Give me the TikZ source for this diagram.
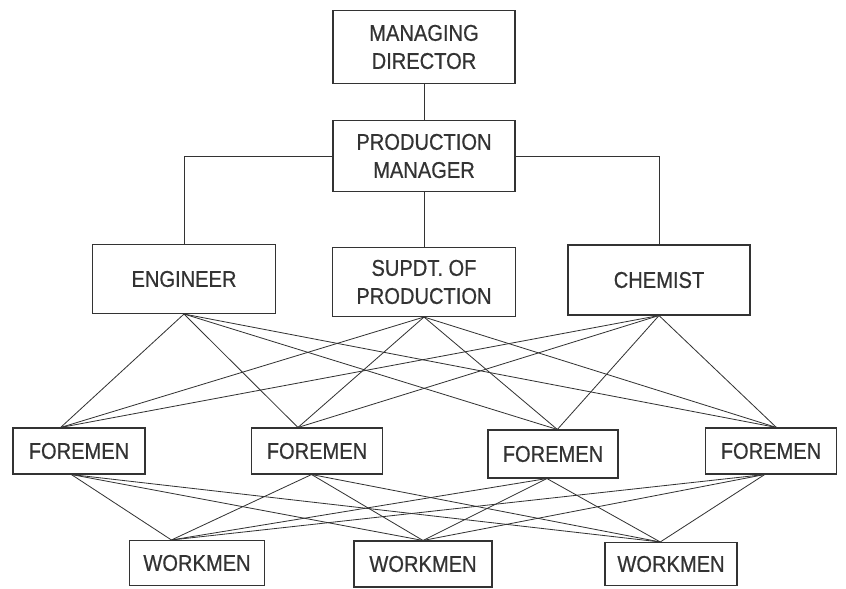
\documentclass[tikz,border=0pt]{standalone}
\usepackage{fontspec}
\setmainfont{Liberation Sans}[FakeStretch=0.88, FakeBold=0.6]
\usetikzlibrary{calc}
\tikzset{
	post/.style={draw=black!80, line width=0.9pt, align=center, inner sep=0pt, font=\fontsize{19.5}{24}\selectfont, text=black!80},
	link/.style={draw=black!80, line width=0.7pt}
}

\begin{document}
\begin{tikzpicture}[x=0.03cm, y=-0.03cm]
	\useasboundingbox (0,0) rectangle (846,588);

	\node[post, minimum width=182*0.03cm, minimum height=73*0.03cm] (md) at (424,47) {MANAGING\\DIRECTOR};
	\node[post, minimum width=182*0.03cm, minimum height=71*0.03cm] (pm) at (424,156) {PRODUCTION\\MANAGER};

	\node[post, minimum width=183*0.03cm, minimum height=69*0.03cm] (eng) at (184,279) {ENGINEER};
	\node[post, minimum width=183*0.03cm, minimum height=69*0.03cm] (sup) at (424,282) {SUPDT. OF\\PRODUCTION};
	\node[post, minimum width=182*0.03cm, minimum height=70*0.03cm] (che) at (659,280) {CHEMIST};

	\node[post, minimum width=132*0.03cm, minimum height=46*0.03cm] (f1) at (79,451) {FOREMEN};
	\node[post, minimum width=131*0.03cm, minimum height=46*0.03cm] (f2) at (317,451) {FOREMEN};
	\node[post, minimum width=130*0.03cm, minimum height=48*0.03cm] (f3) at (553,454) {FOREMEN};
	\node[post, minimum width=131*0.03cm, minimum height=46*0.03cm] (f4) at (771,451) {FOREMEN};

	\node[post, minimum width=135*0.03cm, minimum height=45*0.03cm] (w1) at (197,563) {WORKMEN};
	\node[post, minimum width=138*0.03cm, minimum height=46*0.03cm] (w2) at (423,564) {WORKMEN};
	\node[post, minimum width=132*0.03cm, minimum height=43*0.03cm] (w3) at (671,564) {WORKMEN};

	\draw[link] (md.south) -- (pm.north);
	\draw[link] (pm.south) -- (sup.north);
	\draw[link] (pm.west) -| (eng.north);
	\draw[link] (pm.east) -| (che.north);

	\foreach \boss in {eng,sup,che}
		\foreach \fm/\ang in {f1/128,f2/129,f3/80,f4/77}
			\draw[link] (\boss.south) -- (\fm.\ang);

	\foreach \fm/\ang in {f1/252,f2/257,f3/256,f4/255}
		\foreach \wm/\top in {w1/138,w2/90,w3/116}
			\draw[link] (\fm.\ang) -- (\wm.\top);
\end{tikzpicture}
\end{document}
